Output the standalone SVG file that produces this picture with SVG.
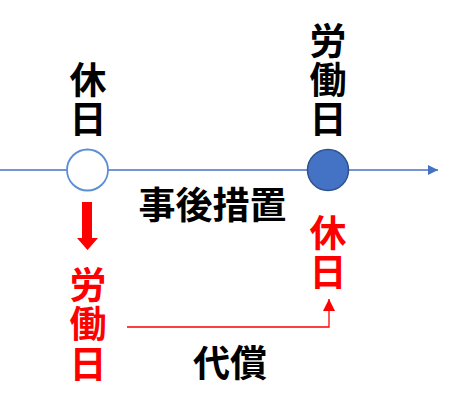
<svg xmlns="http://www.w3.org/2000/svg" width="452" height="407" viewBox="0 0 452 407">
<style>
.t{font-family:"Noto Sans CJK JP","Noto Sans CJK SC",sans-serif;font-size:37px;font-weight:bold;text-anchor:middle}
.k{fill:#000}
.r{fill:#FF0000}
</style>
<defs>
<marker id="ab" viewBox="0 0 10 10" refX="10" refY="5" markerWidth="11" markerHeight="10" markerUnits="userSpaceOnUse" orient="auto"><path d="M0,0L10,5L0,10z" fill="#4472C4"/></marker>
<marker id="ar" viewBox="0 0 10 10" refX="10" refY="5" markerWidth="12" markerHeight="12" markerUnits="userSpaceOnUse" orient="auto"><path d="M0,0L10,5L0,10z" fill="#FF0000"/></marker>
</defs>
<rect width="452" height="407" fill="#fff"/>
<g id="connectors">
<line x1="0" y1="170" x2="438" y2="170" stroke="#4472C4" stroke-width="1.3" marker-end="url(#ab)"/>
<path d="M127,327H329V299" fill="none" stroke="#FF0000" stroke-width="1.3" marker-end="url(#ar)"/>
<path id="down-arrow" d="M82,202H92V238H98L87.5,250L77,238H82Z" fill="#FF0000"/>
</g>
<g id="holiday-open">
<circle cx="87.5" cy="170" r="20.5" fill="#fff" stroke="#5B8FD3" stroke-width="1.8"/>
<text class="t k" x="88" y="94">休</text>
<text class="t k" x="88" y="133">日</text>
</g>
<g id="workday-filled">
<circle cx="328" cy="170" r="20.5" fill="#4472C4" stroke="#2F528F" stroke-width="1.5"/>
<text class="t k" x="328" y="55">労</text>
<text class="t k" x="328" y="94">働</text>
<text class="t k" x="328" y="133">日</text>
</g>
<g id="label-jigo">
<text class="t k" x="212.5" y="219">事後措置</text>
</g>
<g id="red-workday">
<text class="t r" x="88" y="299">労</text>
<text class="t r" x="88" y="338">働</text>
<text class="t r" x="88" y="378">日</text>
</g>
<g id="red-holiday">
<text class="t r" x="328" y="247">休</text>
<text class="t r" x="328" y="286">日</text>
</g>
<g id="label-daisho">
<text class="t k" x="230" y="377">代償</text>
</g>
</svg>
